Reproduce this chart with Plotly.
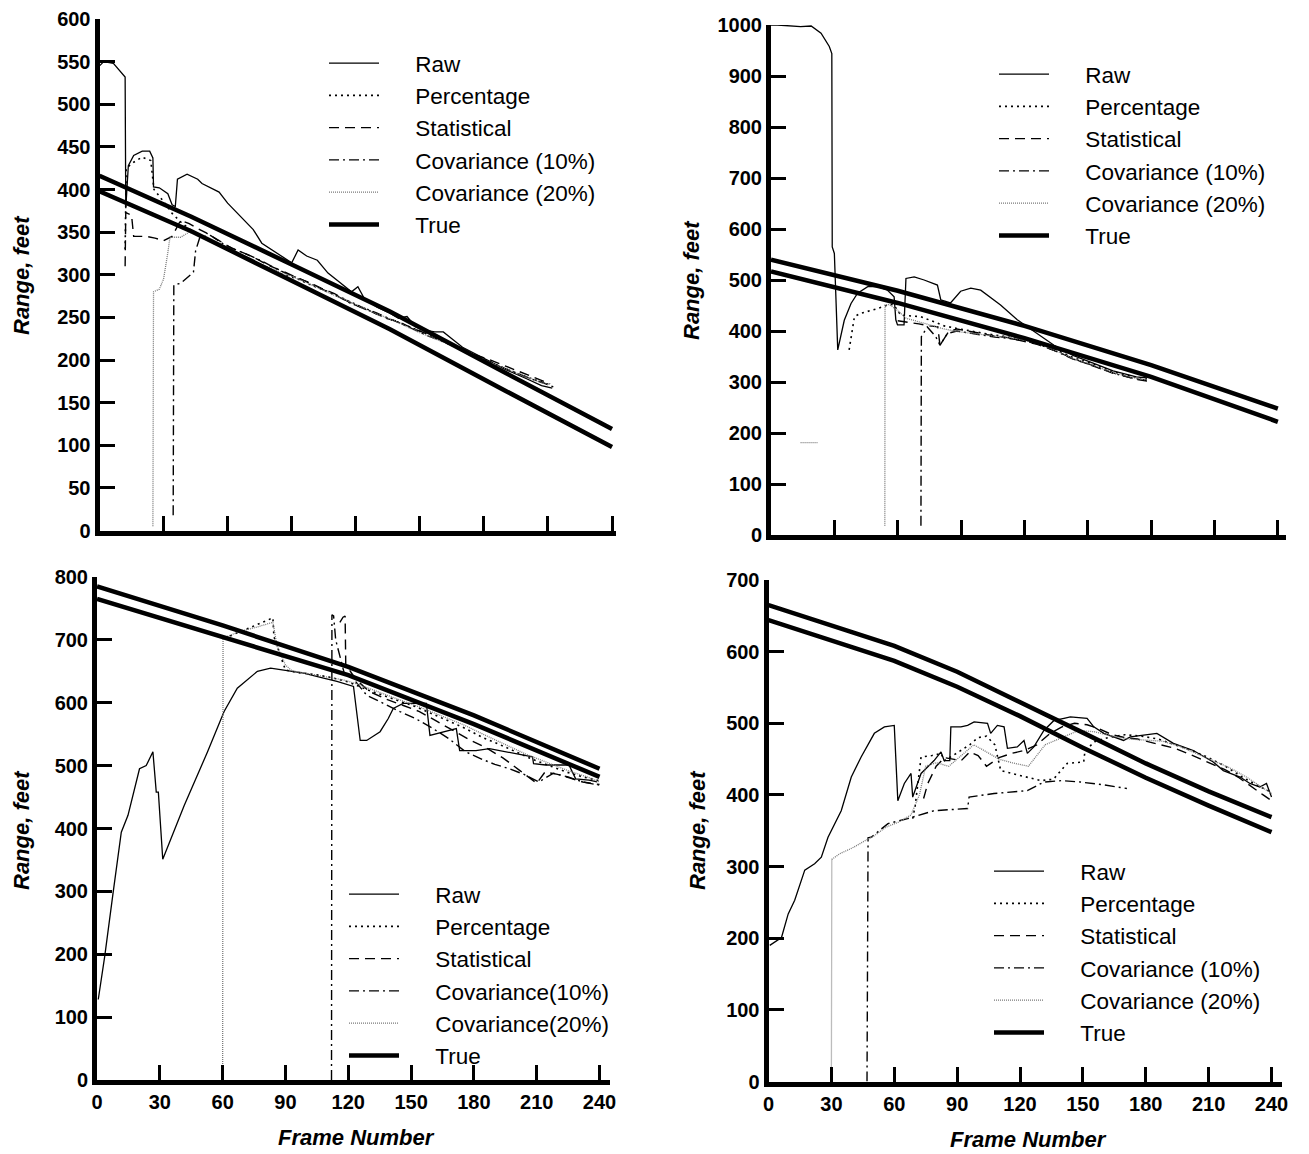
import plotly.graph_objects as go

# ---------------- data: top-left panel ----------------
tl_raw_f = [0, 2, 6.5, 12, 12.3, 13.5, 16, 20, 23.5, 25, 25.3, 28, 32, 34, 35.5, 36.5, 41, 46, 48, 52, 56, 60, 66, 72, 76, 85, 90, 93, 97, 102, 107, 112, 118, 121, 124, 130, 136, 140, 144, 148, 152, 157, 161, 165, 170, 180, 190, 200, 207, 212]
tl_raw_v = [545, 550, 548, 532, 378, 428, 440, 445, 445, 437, 403, 402, 395, 382, 380, 412, 418, 412, 407, 402, 397, 384, 368, 353, 337, 322, 314, 329, 322, 317, 302, 292, 280, 286, 272, 262, 255, 249, 251, 239, 235, 233, 233, 225, 215, 202, 189, 178, 170, 167]
tl_pct_f = [12, 12.5, 16, 20, 24, 25.5, 30, 34, 38, 44, 50, 56, 62, 68, 74, 80, 86, 92, 98, 104, 110, 116, 122, 128, 134, 140, 146, 152, 158, 164, 170, 176, 182, 188, 194, 200, 206, 212]
tl_pct_v = [330, 425, 432, 438, 434, 400, 386, 372, 362, 350, 342, 336, 329, 321, 314, 306, 300, 296, 289, 283, 277, 270, 263, 256, 250, 244, 238, 232, 225, 218, 212, 205, 199, 192, 186, 180, 175, 170]
tl_stat_f = [12, 12.3, 15, 16, 22, 26, 30, 34, 38, 42, 46, 50, 56, 62, 68, 74, 80, 86, 92, 98, 104, 110, 116, 122, 128, 134, 140, 146, 152, 158, 164, 170, 176, 182, 188, 194, 200, 206, 211]
tl_stat_v = [310, 373, 370, 345, 345, 343, 340, 345, 364, 360, 354, 349, 340, 331, 325, 318, 310, 304, 297, 291, 284, 278, 269, 262, 256, 249, 245, 238, 232, 227, 220, 213, 206, 201, 195, 189, 183, 177, 172]
tl_c10_f = [34.5, 34.8, 38, 42, 44, 45, 47, 52, 58, 64, 70, 76, 82, 88, 94, 100, 106, 112, 118, 124, 130, 136, 142, 148, 154, 160, 166, 172, 178, 184, 190, 196, 202, 208, 213]
tl_c10_v = [18, 288, 290, 298, 303, 328, 344, 346, 336, 329, 323, 316, 308, 301, 295, 288, 281, 274, 266, 261, 255, 248, 242, 235, 228, 223, 216, 208, 202, 196, 190, 184, 178, 173, 168]
tl_c20_f = [25, 25.3, 28, 30, 32, 33, 38, 42, 48, 54, 60, 66, 72, 78, 84, 90, 96, 102, 108, 114, 120, 126, 132, 138, 144, 150, 156, 162, 168, 174, 180, 186, 192, 198, 204, 210]
tl_c20_v = [5, 280, 283, 295, 326, 344, 344, 350, 345, 338, 332, 324, 316, 310, 304, 298, 292, 285, 278, 272, 265, 258, 252, 246, 239, 232, 226, 220, 213, 206, 200, 194, 188, 182, 176, 171]
tl_true_f = [0, 43, 90, 136, 190, 240]
tl_true_hi = [416, 368, 312, 257, 185, 119]
tl_true_lo = [398, 351, 293, 236, 164, 98]

# ---------------- data: top-right panel ----------------
tr_raw_f = [0, 3, 14, 19, 23.7, 27.6, 28.8, 29, 30, 31.6, 34.7, 37.9, 41, 45.8, 50.5, 55.2, 58.3, 59.1, 59.9, 63, 63.9, 67.8, 72.5, 78.8, 80.4, 85, 89.8, 94.6, 99.3, 108.7, 116.6, 120, 126, 134, 143, 153, 162, 173, 178]
tr_raw_v = [1000, 1000, 997, 998, 984, 958, 944, 565, 552, 363, 421, 454, 474, 487, 487, 480, 467, 422, 412, 412, 503, 506, 500, 490, 461, 455, 478, 484, 480, 451, 422, 412, 395, 372, 352, 337, 322, 310, 308]
tr_pct_f = [37, 39.5, 42, 45.8, 50.5, 55.2, 58, 61.5, 66, 71, 76, 82, 88, 94, 100, 106, 112, 118, 126, 134, 143, 152, 162, 172, 178]
tr_pct_v = [363, 428, 434, 438, 444, 451, 452, 431, 430, 428, 420, 410, 405, 400, 396, 392, 389, 385, 378, 365, 348, 336, 320, 310, 306]
tr_stat_f = [60, 64, 70, 75, 79, 80, 84, 88, 94, 100, 106, 112, 118, 126, 134, 143, 152, 162, 172, 178]
tr_stat_v = [420, 418, 414, 410, 408, 372, 398, 404, 399, 394, 390, 387, 381, 374, 362, 346, 332, 318, 306, 302]
tr_c10_f = [71, 71.2, 74, 78, 80, 83.5, 88, 94, 100, 106, 112, 118, 126, 134, 143, 152, 162, 172, 178]
tr_c10_v = [18, 389, 408, 389, 372, 395, 400, 396, 392, 388, 386, 382, 375, 362, 345, 333, 317, 307, 303]
tr_c20_f = [14, 22, None, 53.9, 54, 56, 60, 64, 70, 76, 82, 88, 94, 100, 106, 112, 118, 126, 134, 143, 152, 162, 172, 178]
tr_c20_v = [181, 181, None, 18, 451, 452, 440, 425, 418, 412, 404, 399, 396, 392, 390, 388, 384, 376, 363, 346, 334, 318, 308, 304]
tr_true_f = [0, 60, 120, 180, 240]
tr_true_hi = [540, 479, 410, 333, 248]
tr_true_lo = [517, 455, 386, 310, 222]

# ---------------- data: bottom-left panel ----------------
bl_raw_f = [0.6, 3.7, 7.7, 11.6, 14.8, 20.3, 23.5, 26.7, 28.3, 29.3, 31.4, 41.7, 52.8, 60.7, 67, 76.6, 82.9, 92.4, 98.7, 108.2, 114.6, 122.5, 125.7, 128.8, 135.2, 139.1, 141.5, 146.2, 157.3, 159, 165.2, 171.6, 173.2, 181, 187.4, 195.3, 208, 208.5, 214.3, 225.4, 228.6, 235, 238.9]
bl_raw_v = [128, 197, 298, 394, 421, 495, 500, 522, 458, 458, 351, 437, 522, 586, 623, 650, 655, 650, 647, 639, 634, 626, 540, 540, 554, 575, 591, 599, 599, 548, 554, 559, 524, 524, 527, 522, 514, 503, 501, 501, 479, 477, 474]
bl_pct_f = [61, 66, 72, 78, 84, 84.5, 90, 96, 104, 112, 120, 128, 136, 144, 152, 160, 168, 176, 184, 192, 200, 208, 216, 224, 232, 240]
bl_pct_v = [702, 710, 718, 726, 735, 705, 652, 648, 645, 640, 633, 622, 612, 603, 594, 583, 571, 559, 545, 534, 522, 510, 500, 490, 482, 476]
bl_stat_f = [116, 117.5, 118.5, 118.8, 122, 126, 130, 138, 146, 154, 162, 170, 178, 186, 194, 202, 210, 214, 220, 226, 232, 240]
bl_stat_v = [728, 736, 738, 661, 645, 630, 618, 606, 596, 586, 571, 556, 541, 528, 512, 492, 472, 490, 486, 480, 474, 470]
bl_c10_f = [112, 112.2, 113, 114, 118, 122, 128.8, 136, 144.7, 152, 160, 168, 176, 184, 190, 197, 204, 211, 218, 225, 232, 239.7]
bl_c10_v = [0, 740, 738, 700, 648, 640, 612, 600, 586, 575, 560, 543, 522, 510, 502, 495, 486, 474, 488, 482, 474, 469]
bl_c20_f = [60, 60.2, 64, 70, 76, 82, 84, 86, 90, 93, 100, 110, 118, 125, 135, 145, 155, 165, 175, 185, 195, 205, 215, 225, 235, 240]
bl_c20_v = [0, 702, 708, 715, 720, 726, 728, 690, 660, 651, 647, 641, 636, 629, 616, 604, 592, 579, 565, 549, 534, 518, 505, 492, 481, 474]
bl_true_f = [0, 60, 120, 180, 240]
bl_true_hi = [785, 723, 657, 580, 495]
bl_true_lo = [765, 705, 644, 566, 482]

# ---------------- data: bottom-right panel ----------------
br_raw_f = [0.6, 6.2, 9.4, 12.5, 17.3, 22, 25.2, 28.4, 34.7, 39.5, 44.2, 50.5, 55.3, 60, 61.7, 64.8, 68, 68.8, 72.8, 79, 82.3, 83.8, 86.5, 87, 91.8, 95, 98.1, 104.5, 106, 109.2, 112.4, 114, 118.7, 121.9, 123.5, 126.6, 131.4, 136.2, 141, 144, 152, 155.2, 160, 169.4, 172.6, 177.4, 185.3, 193.2, 202.7, 212.2, 217, 225, 229.7, 234.4, 237.6, 240]
br_raw_v = [190, 201, 234, 253, 295, 304, 313, 341, 378, 425, 453, 486, 495, 497, 392, 416, 430, 397, 430, 448, 460, 448, 448, 495, 495, 497, 502, 500, 486, 497, 495, 465, 467, 476, 458, 467, 490, 504, 507, 509, 507, 495, 486, 476, 481, 483, 486, 472, 462, 446, 434, 425, 416, 411, 416, 397]
br_pct_f = [68.8, 70, 72.8, 78, 82.3, 84, 88, 92, 96, 100, 104, 108, 110.8, 116, 123.5, 130, 136, 142.5, 150.4, 151, 156, 162, 170, 178, 186, 194, 202, 210, 218, 226, 234, 240]
br_pct_v = [367, 385, 453, 455, 458, 448, 455, 462, 470, 480, 482, 470, 434, 430, 425, 420, 422, 444, 446, 462, 475, 480, 484, 482, 478, 470, 462, 452, 440, 425, 412, 404]
br_stat_f = [74, 76, 80, 84, 88, 92, 96, 100, 104, 110, 116, 122, 128, 134, 140, 146, 152, 158, 164, 170, 176, 182, 188, 194, 200, 206, 212, 218, 224, 230, 236, 240]
br_stat_v = [395, 416, 440, 452, 450, 448, 460, 455, 440, 452, 458, 462, 470, 485, 495, 500, 498, 492, 484, 480, 478, 474, 470, 465, 458, 450, 442, 435, 425, 412, 400, 392]
br_c10_f = [47, 47.5, 49, 57, 66.4, 79, 95, 95.7, 107.6, 123.5, 131.4, 140, 148.8, 160, 171]
br_c10_v = [0, 340, 341, 360, 367, 378, 381, 397, 402, 406, 418, 420, 418, 414, 409]
br_c20_f = [30, 30.2, 34, 40, 46, 50, 56, 62, 68, 72, 75, 80, 86, 92, 98, 104, 110, 116, 124, 132, 140, 148, 156, 164, 172, 180, 188, 196, 204, 212, 220, 228, 236, 240]
br_c20_v = [0, 310, 318, 326, 336, 342, 355, 362, 372, 400, 440, 445, 440, 455, 470, 460, 450, 445, 440, 470, 480, 490, 488, 482, 478, 476, 475, 468, 458, 448, 438, 425, 410, 402]
br_true_f = [0, 30, 60, 90, 120, 150, 180, 210, 240]
br_true_hi = [665, 637, 608, 572, 530, 487, 444, 405, 369]
br_true_lo = [644, 615, 587, 551, 510, 466, 424, 385, 348]

# ---------------- labels ----------------
names_a = ["Raw", "Percentage", "Statistical", "Covariance (10%)", "Covariance (20%)", "True"]
names_b = ["Raw", "Percentage", "Statistical", "Covariance(10%)", "Covariance(20%)", "True"]
frame_ticks = [0, 30, 60, 90, 120, 150, 180, 210, 240]
y_title = "Range, feet"
x_title = "Frame Number"

# page body has an 8px default margin; figure sized to fill the rest of the window
OFF = 8
W, H = 1309 - OFF, 1154 - OFF
FONT = "Liberation Sans, Arial, sans-serif"
PAD = "&nbsp;" * 5


def px_x(p):
    return (p - OFF) / W


def px_y(p):
    return 1 - (p - OFF) / H


styles = [
    dict(color="black", width=1.3, dash="solid"),
    dict(color="black", width=1.6, dash="2px,4px"),
    dict(color="black", width=1.4, dash="10px,6px"),
    dict(color="black", width=1.4, dash="10px,4px,2px,4px"),
    dict(color="#7a7a7a", width=1.3, dash="1px,1px"),
    dict(color="black", width=4.5, dash="solid"),
]

panels = [
    dict(ax="", data=[(tl_raw_f, tl_raw_v), (tl_pct_f, tl_pct_v), (tl_stat_f, tl_stat_v), (tl_c10_f, tl_c10_v), (tl_c20_f, tl_c20_v)],
         tf=tl_true_f, thi=tl_true_hi, tlo=tl_true_lo, names=names_a,
         xpx=(99.5, 616.3), ypx=(530.5, 19), ymax=600, ydt=50, xmax=242, leg=(324, 42), xlab=False),
    dict(ax="2", data=[(tr_raw_f, tr_raw_v), (tr_pct_f, tr_pct_v), (tr_stat_f, tr_stat_v), (tr_c10_f, tr_c10_v), (tr_c20_f, tr_c20_v)],
         tf=tr_true_f, thi=tr_true_hi, tlo=tr_true_lo, names=names_a,
         xpx=(771, 1286.3), ypx=(535, 25), ymax=1000, ydt=100, xmax=244, leg=(994, 53), xlab=False),
    dict(ax="3", data=[(bl_raw_f, bl_raw_v), (bl_pct_f, bl_pct_v), (bl_stat_f, bl_stat_v), (bl_c10_f, bl_c10_v), (bl_c20_f, bl_c20_v)],
         tf=bl_true_f, thi=bl_true_hi, tlo=bl_true_lo, names=names_b,
         xpx=(97, 610), ypx=(1080, 577), ymax=800, ydt=100, xmax=245, leg=(344, 873), xlab=True),
    dict(ax="4", data=[(br_raw_f, br_raw_v), (br_pct_f, br_pct_v), (br_stat_f, br_stat_v), (br_c10_f, br_c10_v), (br_c20_f, br_c20_v)],
         tf=br_true_f, thi=br_true_hi, tlo=br_true_lo, names=names_a,
         xpx=(768.5, 1282), ypx=(1081.5, 580), ymax=700, ydt=100, xmax=245, leg=(989, 850), xlab=True),
]

fig = go.Figure()
layout = dict(
    width=W, height=H, margin=dict(l=0, r=0, t=0, b=0, autoexpand=False),
    paper_bgcolor="white", plot_bgcolor="white",
    font=dict(family=FONT, color="black"),
    showlegend=True,
)

for i, p in enumerate(panels):
    ax = p["ax"]
    xa, ya = "x" + ax, "y" + ax
    leg = "legend" if i == 0 else "legend%d" % (i + 1)
    for k, (fx, fy) in enumerate(p["data"]):
        fig.add_trace(go.Scatter(x=fx, y=fy, mode="lines", name=PAD + p["names"][k], line=styles[k],
                                 xaxis=xa, yaxis=ya, legend=leg, legendgroup="g%d_%d" % (i, k),
                                 connectgaps=False, hoverinfo="skip"))
    fig.add_trace(go.Scatter(x=p["tf"], y=p["thi"], mode="lines", name=PAD + p["names"][5], line=styles[5],
                             xaxis=xa, yaxis=ya, legend=leg, legendgroup="g%d_5" % i, hoverinfo="skip"))
    fig.add_trace(go.Scatter(x=p["tf"], y=p["tlo"], mode="lines", name=PAD + p["names"][5], line=styles[5],
                             xaxis=xa, yaxis=ya, legend=leg, legendgroup="g%d_5" % i, showlegend=False,
                             hoverinfo="skip"))

    x0, x1 = p["xpx"]
    yb, yt = p["ypx"]
    axis_common = dict(showgrid=False, zeroline=False, showline=True, linewidth=5, linecolor="black",
                       ticks="inside", ticklen=15, tickwidth=2.5, tickcolor="black", automargin=False,
                       tickfont=dict(family=FONT, size=20, weight="bold", color="black"))
    layout["xaxis" + ax] = dict(domain=[px_x(x0), px_x(x1)], range=[0, p["xmax"]], tickvals=frame_ticks,
                                showticklabels=p["xlab"], anchor="y" + ax, **axis_common)
    layout["yaxis" + ax] = dict(domain=[px_y(yb), px_y(yt)], range=[0, p["ymax"]], dtick=p["ydt"],
                                tick0=0, anchor="x" + ax, **axis_common)
    lx, ly = p["leg"]
    layout[leg] = dict(x=px_x(lx), y=px_y(ly), xanchor="left", yanchor="top", xref="paper", yref="paper",
                       bgcolor="rgba(0,0,0,0)", borderwidth=0, itemwidth=50, tracegroupgap=0,
                       traceorder="grouped", font=dict(family=FONT, size=22.5, color="black"),
                       itemclick=False, itemdoubleclick=False)

ann_font = dict(family=FONT, size=22, color="black")
annotations = []
for (cx, cy) in [(21, 275), (692, 280), (21, 830), (697, 830)]:
    annotations.append(dict(text="<b><i>%s</i></b>" % y_title, x=px_x(cx), y=px_y(cy), xref="paper", yref="paper",
                            textangle=-90, showarrow=False, font=ann_font, xanchor="center", yanchor="middle"))
for (cx, cy) in [(356, 1137), (1028, 1139)]:
    annotations.append(dict(text="<b><i>%s</i></b>" % x_title, x=px_x(cx), y=px_y(cy), xref="paper", yref="paper",
                            showarrow=False, font=ann_font, xanchor="center", yanchor="middle"))
layout["annotations"] = annotations

fig.update_layout(**layout)
fig.write_html("out.html")
